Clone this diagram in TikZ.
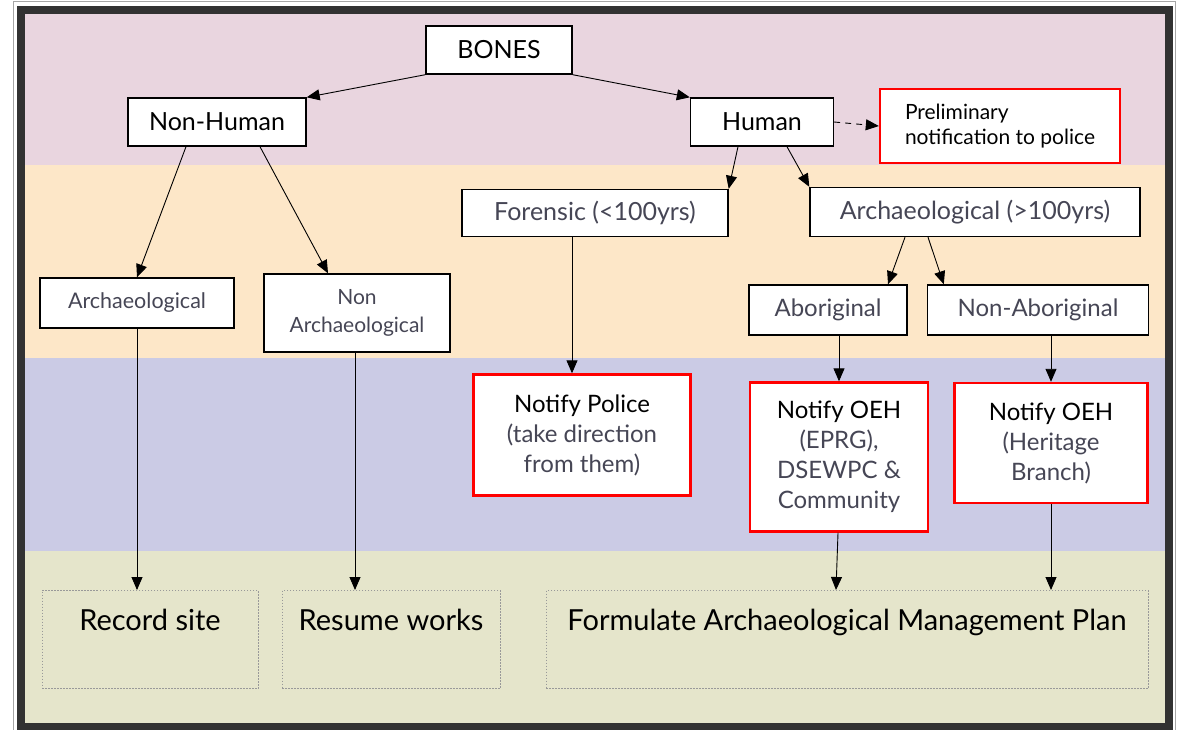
\documentclass[tikz,border=0pt]{standalone}
\usepackage{fontspec}
\setmainfont{Lato}
\usetikzlibrary{arrows.meta, positioning, calc}

\definecolor{bandpink}{RGB}{233,213,223}
\definecolor{bandpeach}{RGB}{253,231,200}
\definecolor{bandlav}{RGB}{203,203,229}
\definecolor{bandbeige}{RGB}{229,229,203}
\definecolor{framegray}{RGB}{50,50,50}
\definecolor{textlight}{RGB}{70,70,85}

\tikzset{
  box/.style={draw=black, line width=1.4pt, fill=white, inner sep=0pt, align=center, font=\fontsize{25}{30}\selectfont},
  lightbox/.style={box, text=textlight},
  redbox/.style={box, draw=red, line width=2.4pt, font=\fontsize{24}{30}\selectfont},
  outcome/.style={draw=gray!80, dash pattern=on 1.5pt off 1.5pt, line width=1pt, inner sep=0pt, anchor=north, text height=40pt, text depth=58pt, font=\fontsize{29}{34}\selectfont},
  arr/.style={-{Triangle[length=13pt,width=11pt]}, line width=0.9pt},
}

\begin{document}
\begin{tikzpicture}[x=1pt, y=-1pt]
            \useasboundingbox (0,0) rectangle (1177,729);

            % Background bands
            \fill[bandpink] (24,14) rectangle (1165,165);
            \fill[bandpeach] (24,165) rectangle (1165,358);
            \fill[bandlav] (24,358) rectangle (1165,551);
            \fill[bandbeige] (24,551) rectangle (1165,723);

            % Frame
            \draw[gray!70, line width=1pt] (13.5,1.5) rectangle (1175.5,740);
            \draw[framegray, line width=8pt] (20.5,10) rectangle (1168.5,727);

            % Top level
            \node[box, minimum width=146, minimum height=48] (bones) at (499,50) {BONES};
            \node[box, minimum width=178, minimum height=48] (nonhuman) at (217,122) {Non-Human};
            \node[box, minimum width=143, minimum height=48] (human) at (762,122) {Human};
            \node[redbox, minimum width=240, minimum height=74, align=left, font=\fontsize{21}{25}\selectfont] (prelim) at (1000,126) {Preliminary\\notification to police};

            % Second level
            \node[lightbox, minimum width=266, minimum height=47] (forensic) at (595,213) {Forensic (<100yrs)};
            \node[lightbox, minimum width=330, minimum height=49] (archbig) at (975,212) {Archaeological (>100yrs)};
            \node[lightbox, minimum width=194, minimum height=50, font=\fontsize{21.5}{28}\selectfont] (archL) at (137,303) {Archaeological};
            \node[lightbox, minimum width=186, minimum height=78, font=\fontsize{21}{28}\selectfont] (nonarch) at (357,313) {Non\\Archaeological};
            \node[lightbox, minimum width=158, minimum height=50, font=\fontsize{24}{30}\selectfont] (abor) at (828,310) {Aboriginal};
            \node[lightbox, minimum width=221, minimum height=50, font=\fontsize{24}{30}\selectfont] (nonabor) at (1038,310) {Non-Aboriginal};

            % Notifications
            \node[redbox, minimum width=217, minimum height=121] (police) at (582,435) {Notify Police\\\textcolor{textlight}{(take direction}\\\textcolor{textlight}{from them)}};
            \node[redbox, minimum width=178, minimum height=149] (oehA) at (839,457) {Notify OEH\\\textcolor{textlight}{(EPRG),}\\\textcolor{textlight}{DSEWPC \&}\\\textcolor{textlight}{Community}};
            \node[redbox, minimum width=193, minimum height=120] (oehH) at (1051,443) {Notify OEH\\\textcolor{textlight}{(Heritage}\\\textcolor{textlight}{Branch)}};

            % Outcomes
            \node[outcome, minimum width=216] (record) at (150,590) {Record site};
            \node[outcome, minimum width=218] (resume) at (391,590) {Resume works};
            \node[outcome, minimum width=602] (plan) at (847,590) {Formulate Archaeological Management Plan};

            % Connectors
            \draw[arr] (bones.south west) -- (nonhuman.north east);
            \draw[arr] (bones.south east) -- (human.north west);
            \draw[arr, dash pattern=on 6pt off 5pt] (human.east) -- (prelim.west);
            \draw[arr] ([xshift=-31pt]nonhuman.south) -- (archL.north);
            \draw[arr] ([xshift=43pt]nonhuman.south) -- ([xshift=-29pt]nonarch.north);
            \draw[arr] ([xshift=-24pt]human.south) -- (forensic.north east);
            \draw[arr] ([xshift=25pt]human.south) -- (archbig.north west);
            \draw[arr] ([xshift=-70pt]archbig.south) -- ([xshift=60pt]abor.north);
            \draw[arr] ([xshift=-47pt]archbig.south) -- ([xshift=17pt]nonabor.north west);
            \draw[arr] ([xshift=-23pt]forensic.south) -- ([xshift=-10pt]police.north);
            \draw[arr] ([xshift=11pt]abor.south) -- (oehA.north);
            \draw[arr] ([xshift=13pt]nonabor.south) -- (oehH.north);
            \draw[arr] (archL.south) -- ([xshift=-13pt]record.north);
            \draw[arr] ([xshift=-2pt]nonarch.south) -- ([xshift=-36pt]resume.north);
            \draw[arr] ([xshift=-1pt]oehA.south) -- ([xshift=-11pt]plan.north);
            \draw[arr] (oehH.south) -- ([xshift=204pt]plan.north);

\end{tikzpicture}
\end{document}
